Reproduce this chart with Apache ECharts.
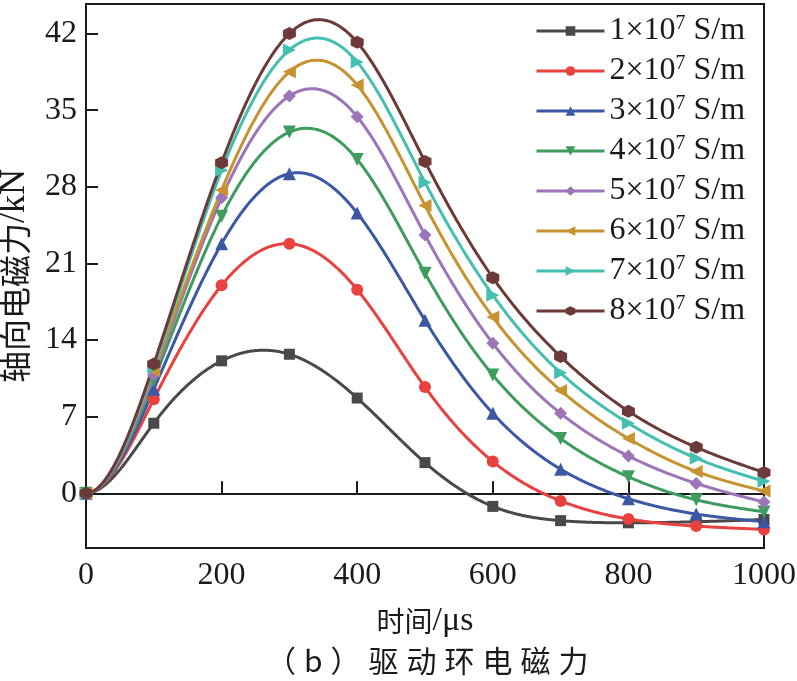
<!DOCTYPE html>
<html>
<head>
<meta charset="utf-8">
<script src="https://cdn.jsdelivr.net/npm/echarts@6/dist/echarts.min.js"></script>
<style>html,body{margin:0;padding:0;background:#fff;}#c{width:797px;height:681px;}</style>
</head>
<body>
<div id="c"></div>
<script>
const times = [0, 100, 200, 300, 400, 500, 600, 700, 800, 900, 1000];
const names = ['1', '2', '3', '4', '5', '6', '7', '8'];
const s1 = [0, 6.4, 12.1, 12.7, 8.7, 2.8, -1.2, -2.5, -2.7, -2.6, -2.4];
const s2 = [0, 8.6, 19.0, 22.8, 18.6, 9.7, 2.9, -0.7, -2.35, -3.0, -3.3];
const s3 = [0, 9.5, 22.8, 29.2, 25.6, 15.8, 7.3, 2.2, -0.5, -1.9, -2.6];
const s4 = [0, 10.3, 25.3, 33.0, 30.5, 20.1, 10.8, 5.0, 1.5, -0.6, -1.7];
const s5 = [0, 10.8, 27.0, 36.3, 34.4, 23.6, 13.7, 7.3, 3.4, 0.9, -0.8];
const s6 = [0, 11.2, 27.7, 38.5, 37.3, 26.3, 16.1, 9.4, 5.0, 2.0, 0.2];
const s7 = [0, 11.5, 29.5, 40.5, 39.4, 28.4, 18.1, 11.0, 6.4, 3.2, 1.1];
const s8 = [0, 11.8, 30.2, 42.0, 41.2, 30.3, 19.7, 12.5, 7.5, 4.2, 1.9];
const yTicks = [0, 7, 14, 21, 28, 35, 42];
const xTicks = [0, 200, 400, 600, 800, 1000];

const allSeries = [s1, s2, s3, s4, s5, s6, s7, s8];
const colors = ['#4d4848', '#e8413e', '#3c58a5', '#3d9c5e', '#9c74b8', '#c79330', '#45bfb0', '#6c3a39'];
const symbols = ['rect', 'circle', 'triangle', 'triangle', 'diamond', 'triangle', 'triangle',
  'path://M5,0 L9.33,2.5 L9.33,7.5 L5,10 L0.67,7.5 L0.67,2.5 Z'];
const rotates = [0, 0, 0, 180, 0, 90, -90, 0];
const sizes = [11, 12, 13, 13, 13, 13, 13, 13];
const FONT = '"Liberation Serif","Times New Roman","Noto Sans CJK SC",serif';
const CJK = '"Noto Sans CJK SC","Liberation Serif",serif';

// cubic spline (clamped zero slope at start, natural at end) used only for drawing the curve
function spline(xs, ys) {
  const n = xs.length;
  const h = [];
  for (let i = 0; i < n - 1; i++) h.push(xs[i + 1] - xs[i]);
  const a = new Array(n).fill(0), b = new Array(n).fill(0), c = new Array(n).fill(0), d = new Array(n).fill(0);
  b[0] = 2 * h[0]; c[0] = h[0]; d[0] = 6 * ((ys[1] - ys[0]) / h[0] - 0);
  for (let i = 1; i < n - 1; i++) {
    a[i] = h[i - 1]; b[i] = 2 * (h[i - 1] + h[i]); c[i] = h[i];
    d[i] = 6 * ((ys[i + 1] - ys[i]) / h[i] - (ys[i] - ys[i - 1]) / h[i - 1]);
  }
  b[n - 1] = 1; a[n - 1] = 0; d[n - 1] = 0;
  for (let i = 1; i < n; i++) {
    const m = a[i] / b[i - 1];
    b[i] -= m * c[i - 1]; d[i] -= m * d[i - 1];
  }
  const M = new Array(n).fill(0);
  M[n - 1] = d[n - 1] / b[n - 1];
  for (let i = n - 2; i >= 0; i--) M[i] = (d[i] - c[i] * M[i + 1]) / b[i];
  return function (x) {
    let i = 0;
    while (i < n - 2 && x > xs[i + 1]) i++;
    const hi = h[i], t1 = xs[i + 1] - x, t0 = x - xs[i];
    return M[i] * t1 * t1 * t1 / (6 * hi) + M[i + 1] * t0 * t0 * t0 / (6 * hi)
      + (ys[i] / hi - M[i] * hi / 6) * t1 + (ys[i + 1] / hi - M[i + 1] * hi / 6) * t0;
  };
}

const series = [];
allSeries.forEach((vals, i) => {
  const f = spline(times, vals);
  series.push({
    name: 'curve' + i,
    type: 'custom',
    coordinateSystem: 'cartesian2d',
    silent: true,
    data: [[times[0], vals[0]]],
    encode: { x: 0, y: 1 },
    renderItem: function (params, api) {
      const pts = [];
      for (let t = times[0]; t <= times[times.length - 1]; t += 2) pts.push(api.coord([t, f(t)]));
      return { type: 'polyline', shape: { points: pts }, style: { stroke: colors[i], lineWidth: 3, fill: null } };
    }
  });
  series.push({
    name: names[i],
    type: 'line',
    data: times.map((t, j) => [t, vals[j]]),
    symbol: symbols[i],
    symbolRotate: rotates[i],
    symbolSize: sizes[i],
    showAllSymbol: true,
    lineStyle: { color: colors[i], width: 3, opacity: 0 },
    itemStyle: { color: colors[i] }
  });
});

const capChars = ['（', 'b', '）', '驱', '动', '环', '电', '磁', '力'];

const chart = echarts.init(document.getElementById('c'), null, { renderer: 'canvas' });
chart.setOption({
  animation: false,
  backgroundColor: '#fff',
  grid: { left: 86, right: 33, top: 4, bottom: 133, outerBoundsMode: 'none', containLabel: false,
    show: true, borderColor: '#1a1a1a', borderWidth: 2, backgroundColor: 'transparent' },
  legend: {
    left: 530, top: 9, orient: 'vertical', itemGap: 7, itemWidth: 68, itemHeight: 12,
    data: names.map((n, i) => ({ name: n, lineStyle: { color: colors[i], width: 3, opacity: 1 } })),
    formatter: n => '{a|' + n + '×10}{s|7}{a| S/m}',
    textStyle: {
      fontFamily: FONT, color: '#1a1a1a', padding: [0, 0, 0, 0],
      rich: {
        a: { fontFamily: FONT, fontSize: 32, lineHeight: 34, color: '#1a1a1a' },
        s: { fontFamily: FONT, fontSize: 20, lineHeight: 20, verticalAlign: 'top', color: '#1a1a1a' }
      }
    }
  },
  xAxis: {
    type: 'value', min: 0, max: 1000, interval: 200,
    name: '{c|时间}{l|/μs}', nameLocation: 'middle', nameGap: 56,
    nameTextStyle: { color: '#1a1a1a',
      rich: { c: { fontFamily: CJK, fontSize: 28, color: '#1a1a1a' }, l: { fontFamily: FONT, fontSize: 34, color: '#1a1a1a' } } },
    axisLine: { show: true, lineStyle: { color: '#1a1a1a', width: 2 } },
    axisTick: { show: true, inside: true, length: 12, lineStyle: { color: '#1a1a1a', width: 2 }, customValues: xTicks },
    axisLabel: { fontFamily: FONT, fontSize: 32, color: '#1a1a1a', margin: 12, customValues: xTicks, formatter: v => String(v) },
    splitLine: { show: false }
  },
  yAxis: {
    type: 'value', min: -5, max: 44.7,
    name: '{c|轴向电磁力}{l|/kN}', nameLocation: 'middle', nameGap: 53, nameRotate: 90,
    nameTextStyle: { color: '#1a1a1a',
      rich: { c: { fontFamily: CJK, fontSize: 32, color: '#1a1a1a' }, l: { fontFamily: FONT, fontSize: 36, color: '#1a1a1a' } } },
    axisLine: { show: true, onZero: false, lineStyle: { color: '#1a1a1a', width: 2 } },
    axisTick: { show: true, inside: true, length: 12, lineStyle: { color: '#1a1a1a', width: 2 }, customValues: yTicks },
    axisLabel: { fontFamily: FONT, fontSize: 32, color: '#1a1a1a', margin: 9, customValues: yTicks, formatter: v => String(v) },
    splitLine: { show: false }
  },
  graphic: [{
    type: 'text', left: 266, top: 646,
    style: {
      text: capChars.map(ch => '{c|' + ch + '}').join(''),
      rich: { c: { fontFamily: CJK, fontSize: 30, padding: [0, 4, 0, 4], fill: '#1a1a1a' } }
    }
  }],
  series: series
});
</script>
</body>
</html>
